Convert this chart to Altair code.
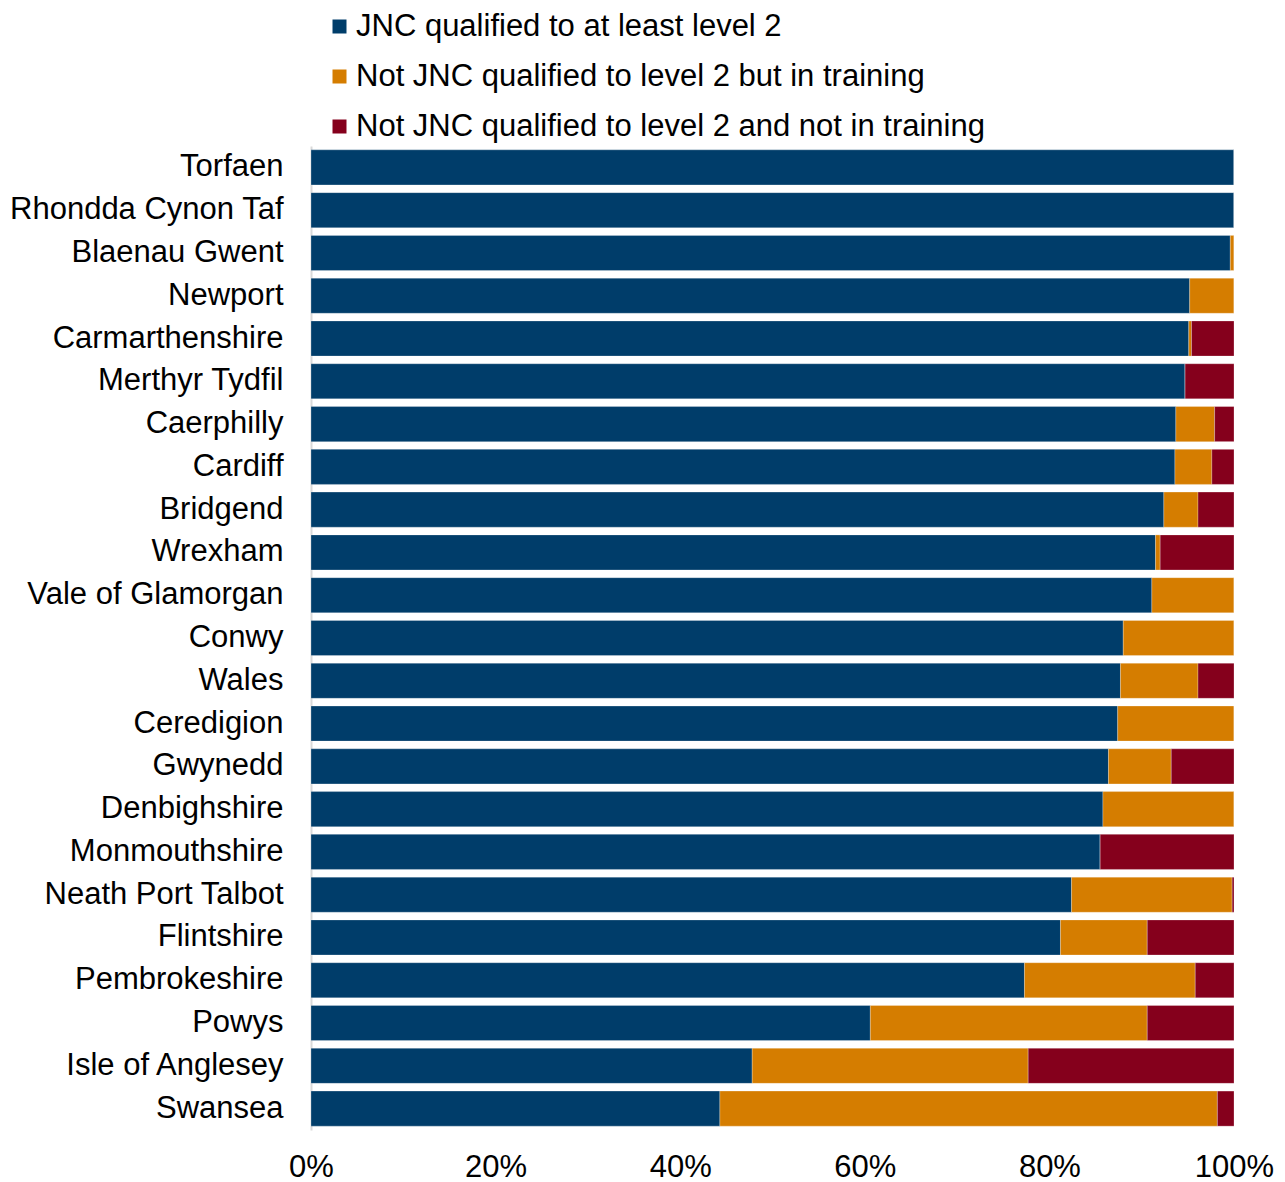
import altair as alt
import pandas as pd

areas = ["Torfaen", "Rhondda Cynon Taf", "Blaenau Gwent", "Newport", "Carmarthenshire",
         "Merthyr Tydfil", "Caerphilly", "Cardiff", "Bridgend", "Wrexham",
         "Vale of Glamorgan", "Conwy", "Wales", "Ceredigion", "Gwynedd",
         "Denbighshire", "Monmouthshire", "Neath Port Talbot", "Flintshire",
         "Pembrokeshire", "Powys", "Isle of Anglesey", "Swansea"]

qualified = [100.0, 100.0, 99.6, 95.2, 95.1, 94.7, 93.7, 93.6, 92.4, 91.5,
             91.1, 88.0, 87.7, 87.4, 86.4, 85.8, 85.5, 82.4, 81.2, 77.3,
             60.6, 47.8, 44.3]
in_training = [0.0, 0.0, 0.4, 4.8, 0.3, 0.0, 4.2, 4.0, 3.7, 0.5,
               8.9, 12.0, 8.4, 12.6, 6.8, 14.2, 0.0, 17.4, 9.4, 18.5,
               30.0, 29.9, 53.9]
not_training = [0.0, 0.0, 0.0, 0.0, 4.6, 5.3, 2.1, 2.4, 3.9, 8.0,
                0.0, 0.0, 3.9, 0.0, 6.8, 0.0, 14.5, 0.2, 9.4, 4.2,
                9.4, 22.3, 1.8]

series = ["JNC qualified to at least level 2",
          "Not JNC qualified to level 2 but in training",
          "Not JNC qualified to level 2 and not in training"]
colors = ["#003d6a", "#d57d00", "#85001c"]

rows = []
for i, a in enumerate(areas):
    for k, vals in enumerate([qualified, in_training, not_training]):
        rows.append({"area": a, "series": series[k], "order": k, "value": vals[i] / 100.0})
df = pd.DataFrame(rows)

font = "Liberation Sans"

chart = alt.Chart(df).mark_bar(stroke="white", strokeWidth=0.5, strokeOpacity=0.5).encode(
    y=alt.Y("area:N", sort=areas, title=None,
            scale=alt.Scale(paddingInner=0.18, paddingOuter=0.09),
            axis=alt.Axis(labelFont=font, labelFontSize=31, labelColor="black",
                          labelPadding=28, labelLimit=400, ticks=False,
                          domain=True, domainColor="#d9d9d9", domainWidth=2)),
    x=alt.X("value:Q", stack="zero", title=None,
            scale=alt.Scale(domain=[0, 1], nice=False),
            axis=alt.Axis(format=".0%", values=[0, 0.2, 0.4, 0.6, 0.8, 1.0],
                          labelFont=font, labelFontSize=31, labelColor="black",
                          labelPadding=22, labelFlush=False, labelOverlap=False,
                          ticks=False, domain=False, grid=False)),
    color=alt.Color("series:N", sort=series,
                    scale=alt.Scale(domain=series, range=colors),
                    legend=alt.Legend(title=None, orient="none", legendX=13, legendY=-135,
                                      direction="vertical", symbolType="square",
                                      symbolSize=196, symbolStrokeWidth=0,
                                      labelFont=font, labelFontSize=31, labelColor="black",
                                      labelOffset=1, rowPadding=18, labelLimit=800)),
    order=alt.Order("order:Q"),
).properties(
    width=923, height=984,
    padding={"left": 0, "top": 3, "right": 0, "bottom": 0},
).configure_view(stroke=None)

chart.save("out.html", embed_options={"renderer": "svg", "actions": False})
